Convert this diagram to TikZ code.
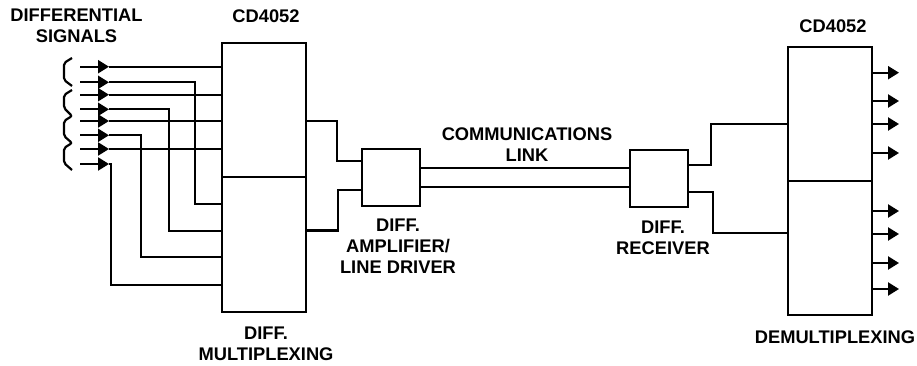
\documentclass[tikz,border=0pt]{standalone}
\usepackage{fontspec}
\setmainfont{Liberation Sans}
\usetikzlibrary{arrows.meta}
\tikzset{
% Boxes, wires and captions of the link
block node/.style={rectangle,draw,line width=2.2pt,inner sep=0,minimum width=84pt,minimum height=134pt},
small node/.style={rectangle,draw,line width=2.2pt,inner sep=0,minimum width=58pt,minimum height=57pt},
caption node/.style={font=\bfseries\fontsize{18.3}{21}\selectfont,align=center,inner sep=0},
wire/.style={line width=2.2pt},
signal/.style={line width=2.2pt,-{Triangle[length=11pt,width=13pt]}}
}
\begin{document}
\begin{tikzpicture}[x=1pt,y=-1pt]
\useasboundingbox (0,0) rectangle (917,366);

\node[block node] (MT) at (264,110){};
\node[block node,minimum height=135pt] (MB) at (264,244.5){};
\node[block node] (DT) at (830,114){};
\node[block node] (DB) at (830,248){};
\node[small node] (AMP) at (391,177.5){};
\node[small node] (RCV) at (659,178.5){};

\node[caption node] (L1) at (76.5,25.5) {DIFFERENTIAL\\SIGNALS};
\node[caption node] (L2) at (266,16.5) {CD4052};
\node[caption node] (L3) at (833,26) {CD4052};
\node[caption node] (L4) at (266,343.5) {DIFF.\\MULTIPLEXING};
\node[caption node] (L5) at (398,246.5) {DIFF.\\AMPLIFIER/\\LINE DRIVER};
\node[caption node] (L6) at (527,145) {COMMUNICATIONS\\LINK};
\node[caption node] (L7) at (663,238) {DIFF.\\RECEIVER};
\node[caption node] (L8) at (835,337) {DEMULTIPLEXING};

% inputs going straight into the upper half
\foreach \n/\y in {a/66.7,b/94.7,c/121,d/149}{
  \coordinate (I\n) at (80,\y);
  \coordinate (T\n) at (109,\y);
  \draw[signal] (I\n) -- (T\n);
  \draw[wire] (T\n) -- (T\n -| MT.west);
}
% inputs going round to the lower half
\foreach \n/\y/\x/\z in {e/82.3/195/204,f/109.3/169/231,g/135.3/141/257,h/164/111/285}{
  \coordinate (I\n) at (80,\y);
  \coordinate (T\n) at (109,\y);
  \coordinate (B\n) at (\x,\z);
  \draw[signal] (I\n) -- (T\n);
  \draw[wire] (T\n) -| (B\n) -- (B\n -| MB.west);
}
% braces at the inputs
\coordinate (C0) at (72,58);
\coordinate (C1) at (72,86);
\coordinate (C2) at (72,90);
\coordinate (C3) at (72,116);
\coordinate (C4) at (72,143);
\coordinate (C5) at (72,170);
\draw[wire,rounded corners=2pt] (C0) -- (64,63) -- (64,80) -- (C1);
\draw[wire,rounded corners=2pt] (C2) -- (64,95) -- (64,108) -- (C3) -- (64,121) -- (64,136) -- (C4) -- (64,148) -- (64,163) -- (C5);

% mux to amplifier
\coordinate (M1) at (306,121);
\coordinate (M2) at (306,230.5);
\coordinate (A1) at (362,161);
\coordinate (A2) at (362,190);
\draw[wire] (M1) -- (337,121) |- (A1);
\draw[wire] (M2) -- (338,230.5) |- (A2);

% the link itself
\draw[wire] (AMP.east |- 0,168) -- (RCV.west |- 0,168);
\draw[wire] (AMP.east |- 0,187) -- (RCV.west |- 0,187);

% receiver to demux
\coordinate (R1) at (688,165);
\coordinate (R2) at (688,192);
\coordinate (D1) at (788,124);
\coordinate (D2) at (788,233);
\draw[wire] (R1) -- (711,165) |- (D1);
\draw[wire] (R2) -- (713,192) |- (D2);

% outputs
\foreach \n/\y in {1/72.7,2/101,3/124,4/153,5/211,6/234,7/263,8/289}{
  \coordinate (Q\n) at (899,\y);
  \draw[signal] (Q\n -| DT.east) -- (Q\n);
}
\end{tikzpicture}
\end{document}
